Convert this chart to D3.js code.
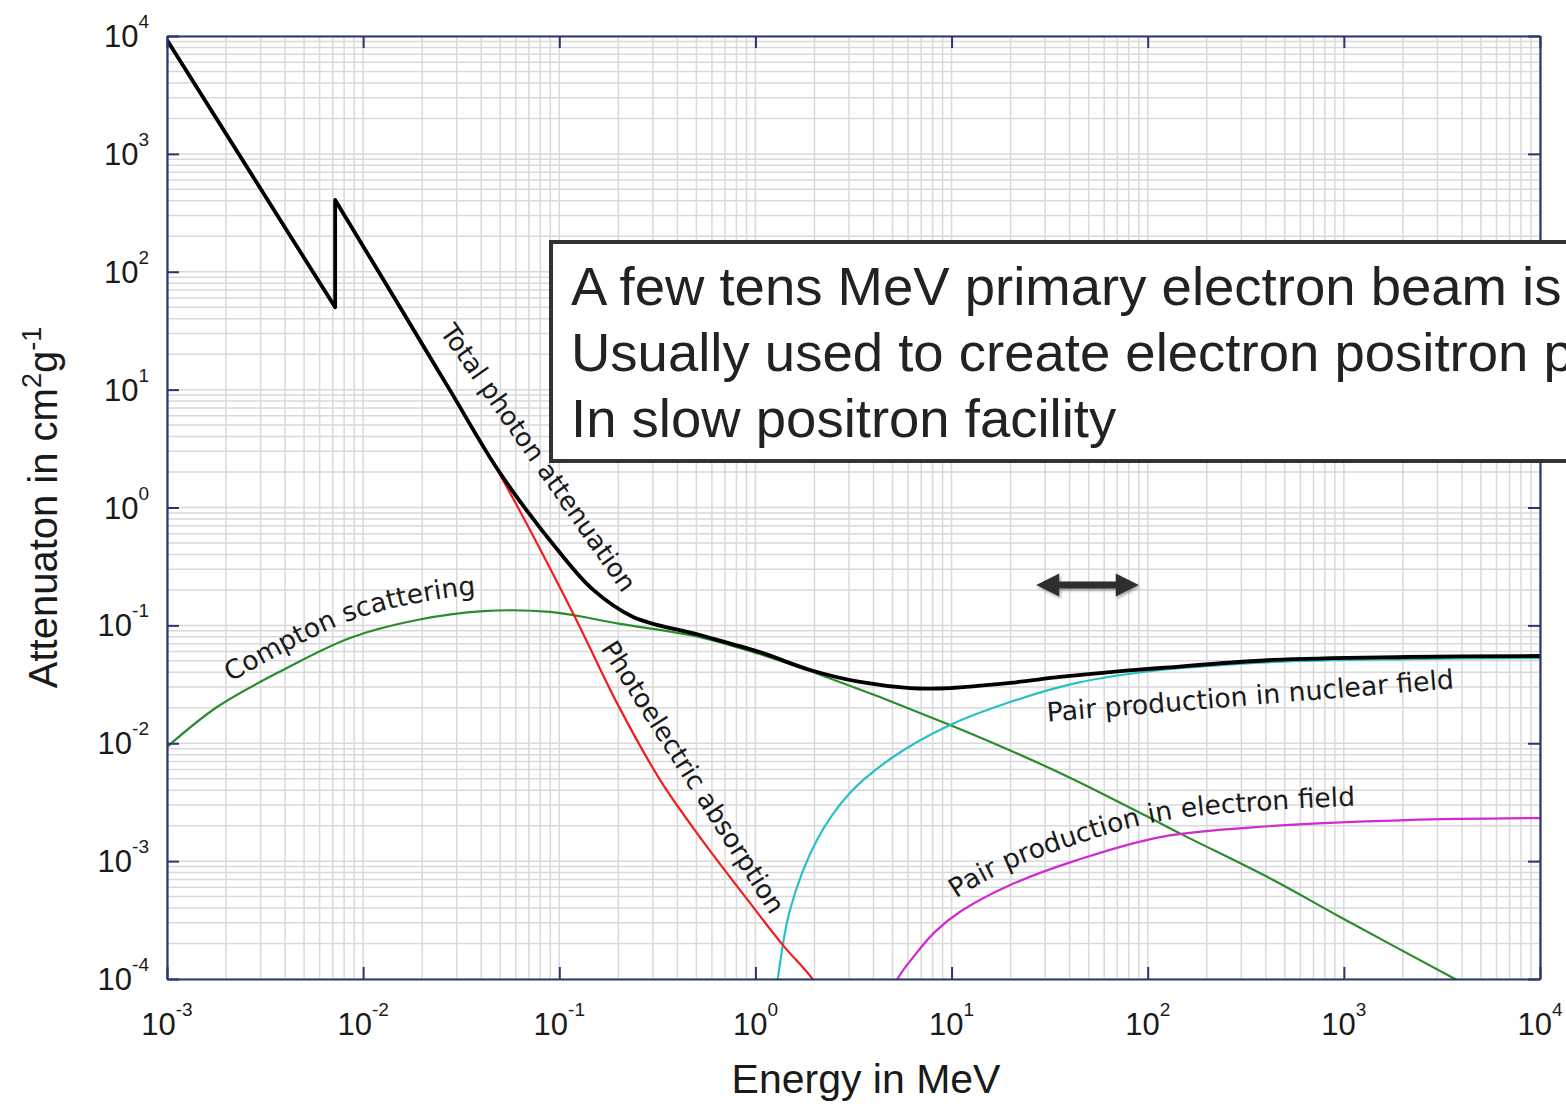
<!DOCTYPE html>
<html>
<head>
<meta charset="utf-8">
<script src="https://cdn.jsdelivr.net/npm/d3@7"></script>
<style>
  body { margin: 0; background: #fff; }
  svg { display: block; }
</style>
</head>
<body>
<div class="chart"></div>
<script>
// axis decades and their exponents
const xTicks = [1e-3, 1e-2, 1e-1, 1e0, 1e1, 1e2, 1e3, 1e4]
const xExp = ['-3', '-2', '-1', '0', '1', '2', '3', '4']
const yTicks = [1e-4, 1e-3, 1e-2, 1e-1, 1e0, 1e1, 1e2, 1e3, 1e4]
const yExp = ['-4', '-3', '-2', '-1', '0', '1', '2', '3', '4']

// energy in MeV / attenuation in cm2/g
const totalE  = [0.001, 0.0072, 0.0072, 0.0154, 0.0277, 0.0499, 0.101, 0.149, 0.238, 0.521, 1.05, 1.90, 3.41, 6.14, 9.82, 19.9, 35.7, 64.3, 116, 436, 2100, 10000]
const totalMu = [9250, 50, 406, 50.2, 9.9, 1.96, 0.411, 0.20, 0.118, 0.0828, 0.0594, 0.0418, 0.0331, 0.0294, 0.0294, 0.0325, 0.0365, 0.0402, 0.0435, 0.0509, 0.0539, 0.055]

const photoE  = [0.001, 0.0072, 0.0072, 0.0154, 0.0277, 0.0499, 0.1175, 0.197, 0.327, 0.521, 0.938, 1.38, 1.97, 2.2]
const photoMu = [9080, 49.2, 400, 49.2, 9.7, 1.89, 0.127, 0.0219, 0.00487, 0.0016, 0.000442, 0.000194, 0.0000982, 0.00007]

const comptonE  = [0.001, 0.0018, 0.0039, 0.00857, 0.0188, 0.0409, 0.0897, 0.204, 0.521, 1.05, 1.90, 9.82, 35.7, 103, 151, 436, 957, 3610, 4500]
const comptonMu = [0.00929, 0.0203, 0.0418, 0.0782, 0.111, 0.132, 0.130, 0.103, 0.0796, 0.0571, 0.041, 0.0143, 0.0056, 0.00232, 0.00167, 0.000692, 0.000336, 0.000102, 0.000084]

const pairNucE  = [1.25, 1.30, 1.50, 2.06, 3.03, 5.03, 9.82, 19.9, 43.6, 116, 436, 2100, 10000]
const pairNucMu = [0.00006, 0.0001, 0.000385, 0.00151, 0.00378, 0.00764, 0.0143, 0.0224, 0.0325, 0.0418, 0.0489, 0.0518, 0.0528]

const pairElE  = [5.0, 5.27, 6.51, 8.23, 11.0, 19.9, 43.6, 116, 436, 2100, 10000]
const pairElMu = [0.00007, 0.000098, 0.00016, 0.000251, 0.00037, 0.000627, 0.00102, 0.0016, 0.00199, 0.00223, 0.00232]

const boxLines = [
  'A few tens MeV primary electron beam is',
  'Usually used to create electron positron p',
  'In slow positron facility'
]

function drawChart() {
  const width = 1566, height = 1104
  const margin = {left: 167, right: 26, top: 36, bottom: 125}
  const navy = '#2a3670', gridColor = '#d9d9d9'
  const labelFont = 'DejaVu Sans'

  const svg = d3.select('.chart').append('svg')
    .attr('width', width)
    .attr('height', height)
    .style('font-family', "'Liberation Sans', Arial, sans-serif")

  const xScale = d3.scaleLog().domain([1e-3, 1e4]).range([margin.left, width - margin.right])
  const yScale = d3.scaleLog().domain([1e-4, 1e4]).range([height - margin.bottom, margin.top])
  const x0 = margin.left, x1 = width - margin.right
  const y0 = height - margin.bottom, y1 = margin.top

  // grid: 1..9 in every decade
  const xMinor = xTicks.slice(0, -1).flatMap(d => d3.range(1, 10).map(k => k * d)).concat([xTicks[xTicks.length - 1]])
  const yMinor = yTicks.slice(0, -1).flatMap(d => d3.range(1, 10).map(k => k * d)).concat([yTicks[yTicks.length - 1]])

  const grid = svg.append('g').attr('stroke', gridColor).attr('stroke-width', 1.5)
  grid.selectAll('.gx').data(xMinor).join('line')
    .attr('x1', d => xScale(d)).attr('x2', d => xScale(d))
    .attr('y1', y1).attr('y2', y0)
  grid.selectAll('.gy').data(yMinor).join('line')
    .attr('y1', d => yScale(d)).attr('y2', d => yScale(d))
    .attr('x1', x0).attr('x2', x1)

  // curves
  svg.append('defs').append('clipPath').attr('id', 'plotClip')
    .append('rect').attr('x', x0).attr('y', y1).attr('width', x1 - x0).attr('height', y0 - y1)

  const line = d3.line().curve(d3.curveCatmullRom.alpha(0.5))
  // smooth curve, but keep the absorption edge as a sharp vertical step
  function seriesPath(E, M, dy = 0) {
    const pts = E.map((e, i) => [xScale(e), yScale(M[i]) + dy])
    const segs = [[pts[0]]]
    for (let i = 1; i < pts.length; i++) {
      if (pts[i][0] === pts[i - 1][0]) segs.push([])
      segs[segs.length - 1].push(pts[i])
    }
    return segs.map((s, i) => i === 0 ? line(s) : line(s).replace(/^M/, 'L')).join('')
  }

  const curves = svg.append('g').attr('clip-path', 'url(#plotClip)').attr('fill', 'none')
  const series = [
    {E: comptonE, M: comptonMu, color: '#2b8c2b', w: 2.2},
    {E: pairElE, M: pairElMu, color: '#cf2bcf', w: 2.2},
    {E: pairNucE, M: pairNucMu, color: '#27c0c6', w: 2.2},
    {E: photoE, M: photoMu, color: '#f41c1c', w: 2.2},
    {E: totalE, M: totalMu, color: '#000', w: 3.8}
  ]
  curves.selectAll('path').data(series).join('path')
    .attr('d', d => seriesPath(d.E, d.M))
    .attr('stroke', d => d.color)
    .attr('stroke-width', d => d.w)
    .attr('stroke-linejoin', 'round')

  // frame with inward ticks on all sides
  const axes = [
    {ax: d3.axisBottom(xScale).tickValues(xTicks), t: `translate(0,${y0})`},
    {ax: d3.axisTop(xScale).tickValues(xTicks), t: `translate(0,${y1})`},
    {ax: d3.axisLeft(yScale).tickValues(yTicks), t: `translate(${x0},0)`},
    {ax: d3.axisRight(yScale).tickValues(yTicks), t: `translate(${x1},0)`}
  ]
  axes.forEach(a => {
    const g = svg.append('g').attr('transform', a.t)
      .call(a.ax.tickSizeInner(-12).tickSizeOuter(0).tickFormat(''))
    g.select('.domain').attr('stroke', navy).attr('stroke-width', 2.2)
    g.selectAll('.tick line').attr('stroke', navy).attr('stroke-width', 2)
  })

  // tick labels 10^n
  svg.append('g').selectAll('text').data(xTicks).join('text')
    .attr('x', d => xScale(d))
    .attr('y', y0 + 56)
    .attr('text-anchor', 'middle')
    .attr('font-size', 31)
    .attr('fill', '#1a1a1a')
    .each(function(d, i) {
      const t = d3.select(this)
      t.append('tspan').text('10')
      t.append('tspan').attr('dy', -19).attr('font-size', 19).text(xExp[i])
    })

  svg.append('g').selectAll('text').data(yTicks).join('text')
    .attr('x', x0 - 18)
    .attr('y', d => yScale(d) + 11)
    .attr('text-anchor', 'end')
    .attr('font-size', 31)
    .attr('fill', '#1a1a1a')
    .each(function(d, i) {
      const t = d3.select(this)
      t.append('tspan').text('10')
      t.append('tspan').attr('dy', -19).attr('font-size', 19).text(yExp[i])
    })

  // axis titles
  svg.append('text')
    .attr('x', 866)
    .attr('y', 1093)
    .attr('text-anchor', 'middle')
    .attr('font-size', 41)
    .attr('fill', '#1a1a1a')
    .text('Energy in MeV')

  const yt = svg.append('text')
    .attr('transform', `translate(57,${(y0 + y1) / 2}) rotate(-90)`)
    .attr('text-anchor', 'middle')
    .attr('font-size', 40)
    .attr('fill', '#1a1a1a')
  yt.append('tspan').text('Attenuaton in cm')
  yt.append('tspan').attr('dy', -16).attr('font-size', 27).text('2')
  yt.append('tspan').attr('dy', 16).text('g')
  yt.append('tspan').attr('dy', -16).attr('font-size', 27).text('-1')

  // curve labels
  const labels = svg.append('g')
    .attr('font-family', labelFont)
    .attr('font-size', 26)
    .attr('fill', '#1a1a1a')

  labels.append('text')
    .attr('transform', `translate(${xScale(0.0718)},${yScale(2.39)}) rotate(55)`)
    .attr('text-anchor', 'middle')
    .text('Total photon attenuation')

  labels.append('text')
    .attr('transform', `translate(${xScale(0.44)},${yScale(0.0047)}) rotate(57.5)`)
    .attr('text-anchor', 'middle')
    .text('Photoelectric absorption')

  labels.append('text')
    .attr('transform', `translate(${xScale(336)},${yScale(0.0211)}) rotate(-4.7)`)
    .attr('text-anchor', 'middle')
    .attr('font-size', 26.7)
    .text('Pair production in nuclear field')

  // labels that bend with their curve
  const defs = svg.select('defs')
  const shifted = (E, M, from, to, dy) => {
    const idx = E.map((e, i) => i).filter(i => E[i] >= from && E[i] <= to)
    return line(idx.map(i => [xScale(E[i]), yScale(M[i]) + dy]))
  }
  defs.append('path').attr('id', 'comptonPath').attr('d', shifted(comptonE, comptonMu, 0.0018, 0.3, -17))
  defs.append('path').attr('id', 'pairElPath').attr('d', shifted(pairElE, pairElMu, 6.5, 10000, -16))

  labels.append('text').append('textPath')
    .attr('href', '#comptonPath')
    .attr('startOffset', 16)
    .attr('font-size', 26.5)
    .text('Compton scattering')

  labels.append('text').append('textPath')
    .attr('href', '#pairElPath')
    .attr('startOffset', 58)
    .attr('font-size', 26.5)
    .text('Pair production in electron field')

  // double arrow
  const shadow = defs.append('filter').attr('id', 'shadow').attr('x', '-20%').attr('y', '-50%').attr('width', '140%').attr('height', '200%')
  shadow.append('feDropShadow').attr('dx', 1.5).attr('dy', 2).attr('stdDeviation', 1.5).attr('flood-opacity', 0.35)

  const ax0 = xScale(27), ax1 = xScale(90), ay = yScale(0.22)
  const hl = 23, hh = 11.5, t = 3.5
  const p = d3.path()
  p.moveTo(ax0, ay)
  p.lineTo(ax0 + hl, ay - hh); p.lineTo(ax0 + hl, ay - t); p.lineTo(ax1 - hl, ay - t)
  p.lineTo(ax1 - hl, ay - hh); p.lineTo(ax1, ay); p.lineTo(ax1 - hl, ay + hh)
  p.lineTo(ax1 - hl, ay + t); p.lineTo(ax0 + hl, ay + t); p.lineTo(ax0 + hl, ay + hh)
  p.closePath()
  svg.append('path').attr('d', p.toString()).attr('fill', '#2e2e2e').attr('filter', 'url(#shadow)')

  // annotation box (runs off the right edge, as in the source slide)
  svg.append('rect')
    .attr('x', 551).attr('y', 242)
    .attr('width', 1100).attr('height', 219)
    .attr('fill', '#fff')
    .attr('stroke', '#333')
    .attr('stroke-width', 4)

  svg.append('g').selectAll('text').data(boxLines).join('text')
    .attr('x', 571)
    .attr('y', (d, i) => 305 + i * 66)
    .attr('font-size', 54.5)
    .attr('fill', '#222')
    .text(d => d)
}

drawChart()
</script>
</body>
</html>
